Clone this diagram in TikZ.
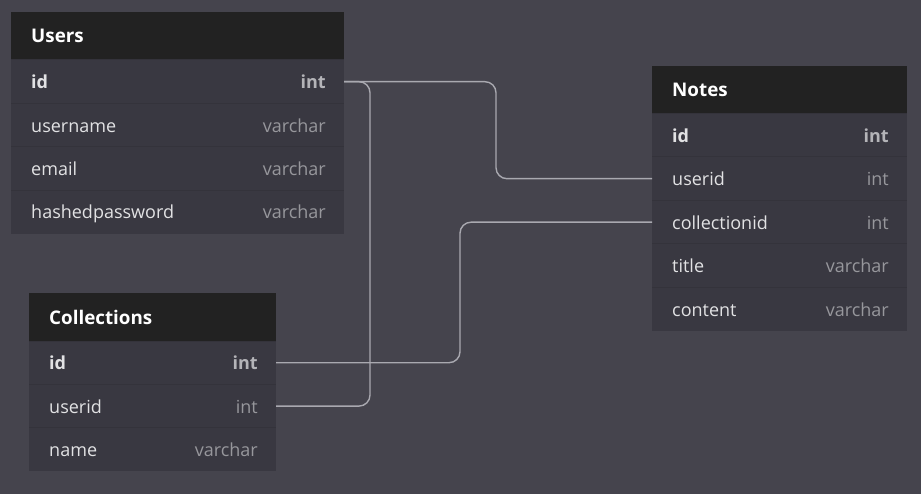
\documentclass[tikz,border=0pt]{standalone}
\usepackage{fontspec}
\setmainfont{Open Sans}
\usetikzlibrary{calc}
\definecolor{bg}{HTML}{45444D}
\definecolor{hdrbg}{HTML}{222222}
\definecolor{rowbg}{HTML}{393841}
\definecolor{sepc}{HTML}{34333B}
\definecolor{fnamec}{HTML}{E2E2E4}
\definecolor{ftypec}{HTML}{97979C}
\definecolor{keytypec}{HTML}{B4B4B8}
\definecolor{connc}{HTML}{A9A9B0}
\tikzset{
  hdrbox/.style={fill=hdrbg, draw=none, minimum height=48pt, inner sep=0pt, outer sep=0pt},
  rowbox/.style={fill=rowbg, draw=none, minimum height=43.4pt, inner sep=0pt, outer sep=0pt},
  hdrtext/.style={inner sep=0pt, text=white, font=\fontsize{18.8}{21}\selectfont\bfseries},
  plainname/.style={inner sep=0pt, text=fnamec, font=\fontsize{18}{21}\selectfont},
  plaintype/.style={inner sep=0pt, text=ftypec, font=\fontsize{18}{21}\selectfont},
  keyname/.style={inner sep=0pt, text=fnamec, font=\fontsize{18}{21}\selectfont\bfseries},
  keytype/.style={inner sep=0pt, text=keytypec, font=\fontsize{18}{21}\selectfont\bfseries},
  sepline/.style={draw=sepc, line width=1pt},
  conn/.style={draw=connc, line width=1.4pt, rounded corners=11pt}
}
\newcommand\tblhead[5]{%
  \node[hdrbox, minimum width=#4pt, anchor=north west] (#1) at (#2,#3) {};
  \node[hdrtext, anchor=base west] (#1-t) at ([xshift=20pt, yshift=-7pt]#1.west) {#5};}
\newcommand\tblrow[7]{%
  \node[rowbox, minimum width=#4pt, anchor=north west] (#1) at (#2,#3) {};
  \draw[sepline] (#1.north west) -- (#1.north east);
  \node[#7name, anchor=base west] (#1-n) at ([xshift=20pt, yshift=-7pt]#1.west) {#5};
  \node[#7type, anchor=base east] (#1-y) at ([xshift=-18pt, yshift=-7pt]#1.east) {#6};}
\begin{document}
\begin{tikzpicture}[x=1pt, y=-1pt]
\fill[bg] (0,0) rectangle (921,494);
\useasboundingbox (0,0) rectangle (921,494);
% Users
\tblhead{users}{11}{12}{333}{Users}
\tblrow{u-id}{11}{60}{333}{id}{int}{key}
\tblrow{u-username}{11}{103.4}{333}{username}{varchar}{plain}
\tblrow{u-email}{11}{146.8}{333}{email}{varchar}{plain}
\tblrow{u-hashed}{11}{190.2}{333}{hashedpassword}{varchar}{plain}
% Collections
\tblhead{collections}{29}{293}{247}{Collections}
\tblrow{c-id}{29}{341}{247}{id}{int}{key}
\tblrow{c-userid}{29}{384.4}{247}{userid}{int}{plain}
\tblrow{c-name}{29}{427.8}{247}{name}{varchar}{plain}
% Notes
\tblhead{notes}{652}{66}{255}{Notes}
\tblrow{n-id}{652}{113.5}{255}{id}{int}{key}
\tblrow{n-userid}{652}{157}{255}{userid}{int}{plain}
\tblrow{n-collectionid}{652}{200.5}{255}{collectionid}{int}{plain}
\tblrow{n-title}{652}{244}{255}{title}{varchar}{plain}
\tblrow{n-content}{652}{287.5}{255}{content}{varchar}{plain}
% junction columns
\coordinate (j1) at (496,0);
\coordinate (j2) at (370,0);
\coordinate (j3) at (460,0);
% connectors
\draw[conn] (u-id.east) -| (j1 |- n-userid.west) -- (n-userid.west);
\draw[conn] (u-id.east) -| (j2 |- c-userid.east) -- (c-userid.east);
\draw[conn] (c-id.east) -| (j3 |- n-collectionid.west) -- (n-collectionid.west);
\end{tikzpicture}
\end{document}
